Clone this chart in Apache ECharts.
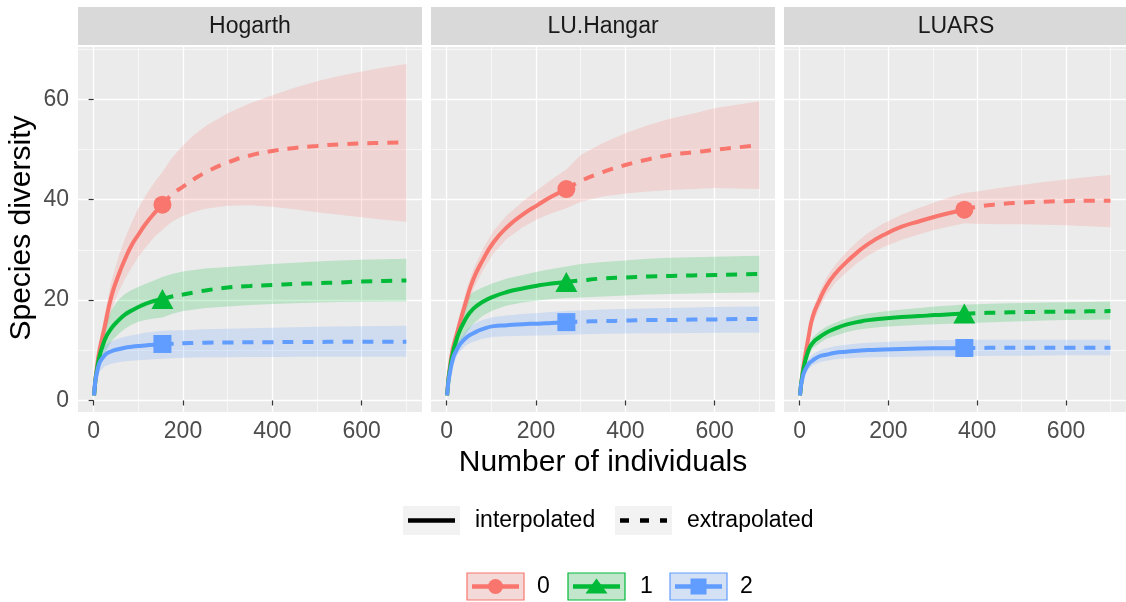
<!DOCTYPE html>
<html><head><meta charset="utf-8">
<script src="https://cdn.jsdelivr.net/npm/echarts@6/dist/echarts.min.js"></script>
<style>html,body{margin:0;padding:0;background:#fff}#c{width:1126px;height:602px}</style>
</head><body><div id="c"></div><script>
// ---------- data ----------
const siteNames = ['Hogarth', 'LU.Hangar', 'LUARS'];
const orderNames = ['0', '1', '2'];
const methodNames = ['interpolated', 'extrapolated'];
const xTicks = [0, 200, 400, 600];
const yTicks = [0, 20, 40, 60];

// Hogarth
const hogN = 154;
const hogX   = [1,10,25,40,55,70,85,100,115,135,154, 175,200,225,250,300,350,400,450,500,550,600,650,700];
const hogQ0  = [1,8.4,14.8,20.8,24.8,28.1,30.9,33.0,35.0,37.2,39.0, 41.0,42.6,44.1,45.4,47.4,48.8,49.7,50.3,50.7,51.0,51.2,51.3,51.4];
const hogQ0Lo= [1,7.2,12.6,18.0,21.5,24.2,26.5,28.6,30.3,32.5,34.0, 35.6,36.8,37.6,38.2,38.8,38.9,38.6,38.1,37.5,37.0,36.5,36.0,35.6];
const hogQ0Hi= [1,9.6,17.2,23.8,28.4,32.2,35.4,38.3,40.6,43.3,45.5, 48.3,50.8,52.9,54.6,57.2,59.2,60.8,62.3,63.6,64.6,65.5,66.3,67.0];
const hogQ1  = [1,7.6,12.1,14.4,15.9,17.1,17.9,18.6,19.2,19.8,20.2, 20.7,21.1,21.5,21.9,22.5,22.8,23.0,23.2,23.35,23.5,23.7,23.8,23.9];
const hogQ1Lo= [1,6.2,9.5,11.8,13.2,14.3,15.1,15.7,16.0,16.3,16.5, 17.2,17.8,18.1,18.4,18.7,19.0,19.2,19.35,19.5,19.6,19.65,19.7,19.7];
const hogQ1Hi= [1,9.0,14.8,18.0,20.0,21.2,22.0,22.6,23.2,23.9,24.6, 25.2,25.7,26.0,26.3,26.6,26.9,27.2,27.45,27.7,27.9,28.0,28.1,28.2];
const hogQ2  = [1,6.6,9.0,9.8,10.2,10.5,10.7,10.85,10.95,11.1,11.25, 11.3,11.4,11.45,11.5,11.55,11.6,11.6,11.65,11.65,11.7,11.7,11.7,11.7];
const hogQ2Lo= [1,5.4,6.8,7.3,7.6,7.8,7.9,8.0,8.1,8.2,8.3, 8.4,8.5,8.55,8.6,8.6,8.65,8.65,8.7,8.7,8.7,8.7,8.7,8.7];
const hogQ2Hi= [1,7.9,11.0,11.8,12.3,12.7,13.0,13.2,13.5,13.7,13.9, 13.95,14.0,14.1,14.2,14.3,14.4,14.5,14.6,14.7,14.75,14.8,14.85,14.9];

// LU.Hangar
const hanN = 268;
const hanX   = [1,10,25,45,60,80,105,135,170,205,235,268, 300,350,400,450,500,550,600,650,700];
const hanQ0  = [1,8.5,14.0,20.2,24.2,27.8,31.5,34.5,37.0,39.0,40.6,42.1, 43.7,45.5,46.9,48.0,48.9,49.4,49.9,50.4,50.8];
const hanQ0Lo= [1,7.3,12.3,18.3,22.2,25.7,29.3,32.2,34.5,36.2,37.3,38.3, 39.6,40.6,41.2,41.6,41.9,42.1,42.3,42.2,42.1];
const hanQ0Hi= [1,9.7,15.7,22.3,26.2,30.0,33.8,36.9,39.6,42.0,44.0,46.0, 48.9,51.3,53.2,54.8,56.1,57.1,58.2,58.9,59.6];
const hanQ1  = [1,7.8,12.9,16.6,18.3,19.6,20.7,21.6,22.3,22.9,23.3,23.6, 23.9,24.3,24.5,24.7,24.8,24.9,25.0,25.1,25.2];
const hanQ1Lo= [1,6.8,10.6,13.6,15.3,16.8,18.0,18.9,19.5,19.9,20.2,20.4, 20.5,20.7,20.9,21.1,21.2,21.3,21.4,21.45,21.5];
const hanQ1Hi= [1,8.8,15.0,20.4,21.6,22.5,23.4,24.3,25.0,25.7,26.2,26.7, 27.2,27.6,27.9,28.2,28.4,28.5,28.6,28.7,28.8];
const hanQ2  = [1,6.8,10.5,12.6,13.4,14.2,14.8,15.0,15.2,15.3,15.45,15.6, 15.7,15.8,15.9,16.0,16.0,16.1,16.1,16.2,16.2];
const hanQ2Lo= [1,6.0,9.3,11.1,11.7,12.3,12.7,12.8,12.9,12.95,13.0,13.1, 13.2,13.3,13.35,13.4,13.4,13.45,13.5,13.5,13.5];
const hanQ2Hi= [1,7.6,11.7,14.1,15.2,16.0,16.6,16.9,17.2,17.4,17.6,17.8, 17.9,18.1,18.2,18.3,18.4,18.5,18.6,18.65,18.7];

// LUARS
const luaN = 371;
const luaX   = [1,8,20,30,45,60,80,105,130,155,190,230,270,305,340,371, 400,450,500,550,600,650,700];
const luaQ0  = [1,6.3,12.5,16.8,20.0,22.7,25.2,27.5,29.5,31.2,33.0,34.6,35.7,36.6,37.4,38.0, 38.6,39.1,39.4,39.6,39.7,39.8,39.8];
const luaQ0Lo= [1,5.5,11.3,15.4,18.4,21.0,23.4,25.5,27.4,28.9,30.6,32.0,33.1,34.0,34.7,35.3, 35.2,35.1,35.1,35.0,34.9,34.7,34.5];
const luaQ0Hi= [1,7.1,13.7,18.2,21.6,24.4,27.0,29.5,31.6,33.4,35.3,37.0,38.4,39.5,40.5,41.3, 41.6,42.3,42.9,43.5,44.0,44.5,44.9];
const luaQ1  = [1,5.9,10.0,11.5,12.6,13.5,14.3,15.1,15.6,16.0,16.3,16.6,16.8,17.0,17.15,17.3, 17.4,17.5,17.6,17.65,17.7,17.75,17.8];
const luaQ1Lo= [1,5.2,9.0,10.4,11.4,12.3,12.9,13.6,14.1,14.4,14.7,14.9,15.1,15.2,15.3,15.4, 15.5,15.65,15.8,15.9,16.0,16.05,16.1];
const luaQ1Hi= [1,6.6,11.0,12.6,13.8,14.7,15.5,16.3,16.9,17.3,17.7,18.1,18.4,18.7,18.9,19.1, 19.15,19.3,19.4,19.5,19.55,19.6,19.7];
const luaQ2  = [1,5.0,7.2,8.0,8.8,9.1,9.5,9.7,9.9,10.05,10.15,10.25,10.35,10.4,10.42,10.45, 10.45,10.5,10.5,10.5,10.5,10.5,10.5];
const luaQ2Lo= [1,4.3,6.2,7.0,7.6,7.9,8.2,8.4,8.5,8.6,8.65,8.7,8.75,8.8,8.8,8.8, 8.85,8.9,8.9,8.95,9.0,9.0,9.0];
const luaQ2Hi= [1,5.7,8.3,9.2,10.0,10.4,10.8,11.1,11.35,11.5,11.65,11.8,11.9,12.0,12.05,12.1, 12.1,12.1,12.1,12.1,12.1,12.1,12.1];

// ---------- styling / layout ----------
const FONT = '"Liberation Sans", Arial, sans-serif';
const colors = ['#F8766D', '#00BA38', '#619CFF'];
const fills = ['rgba(248,118,109,0.2)', 'rgba(0,186,56,0.2)', 'rgba(97,156,255,0.2)'];
const symbols = ['circle', 'triangle', 'rect'];
const symSizes = [18, [22, 20], 18];
const gridLefts = [78, 431, 784];
const GW = 344, GT = 47, GH = 365;

const panels = [
  { x: hogX, n: hogN, q: [[hogQ0, hogQ0Lo, hogQ0Hi], [hogQ1, hogQ1Lo, hogQ1Hi], [hogQ2, hogQ2Lo, hogQ2Hi]] },
  { x: hanX, n: hanN, q: [[hanQ0, hanQ0Lo, hanQ0Hi], [hanQ1, hanQ1Lo, hanQ1Hi], [hanQ2, hanQ2Lo, hanQ2Hi]] },
  { x: luaX, n: luaN, q: [[luaQ0, luaQ0Lo, luaQ0Hi], [luaQ1, luaQ1Lo, luaQ1Hi], [luaQ2, luaQ2Lo, luaQ2Hi]] }
];

const grids = [], xAxes = [], yAxes = [], series = [], graphics = [];

panels.forEach((p, i) => {
  grids.push({ left: gridLefts[i], top: GT, width: GW, height: GH, show: true,
    backgroundColor: '#EBEBEB', borderWidth: 0, containLabel: false });
  xAxes.push({
    type: 'value', gridIndex: i, min: -35, max: 735, splitNumber: 4,
    axisLine: { show: false },
    axisTick: { show: true, length: 5, customValues: xTicks, lineStyle: { color: '#333333', width: 1.2 } },
    axisLabel: { show: true, customValues: xTicks, color: '#4D4D4D', fontSize: 23, fontFamily: FONT, margin: 8 },
    splitLine: { show: true, lineStyle: { color: '#FFFFFF', width: 1.3 } },
    minorTick: { show: false, splitNumber: 2 },
    minorSplitLine: { show: true, lineStyle: { color: '#FFFFFF', width: 0.6 } }
  });
  yAxes.push({
    type: 'value', gridIndex: i, min: -2.3, max: 70.4, splitNumber: 4,
    axisLine: { show: false },
    axisTick: { show: i === 0, length: 5, customValues: yTicks, lineStyle: { color: '#333333', width: 1.2 } },
    axisLabel: { show: i === 0, customValues: yTicks, color: '#4D4D4D', fontSize: 23, fontFamily: FONT, margin: 9 },
    splitLine: { show: true, lineStyle: { color: '#FFFFFF', width: 1.3 } },
    minorTick: { show: false, splitNumber: 2 },
    minorSplitLine: { show: true, lineStyle: { color: '#FFFFFF', width: 0.6 } }
  });

  p.q.forEach((arr, q) => {
    const [est, lo, hi] = arr;
    const xs = p.x;
    // ribbon
    series.push({
      type: 'custom', xAxisIndex: i, yAxisIndex: i, silent: true, z: 1,
      data: [[xs[0], est[0]]],
      renderItem: (params, api) => {
        const pts = [];
        for (let k = 0; k < xs.length; k++) pts.push(api.coord([xs[k], hi[k]]));
        for (let k = xs.length - 1; k >= 0; k--) pts.push(api.coord([xs[k], lo[k]]));
        return { type: 'polygon', shape: { points: pts }, style: { fill: fills[q], stroke: null } };
      }
    });
    const solid = [], dashed = [];
    let nVal = null;
    xs.forEach((xv, k) => {
      if (xv <= p.n) solid.push([xv, est[k]]);
      if (xv >= p.n) dashed.push([xv, est[k]]);
      if (xv === p.n) nVal = est[k];
    });
    series.push({
      type: 'line', xAxisIndex: i, yAxisIndex: i, data: solid, showSymbol: false, symbol: 'none',
      smooth: true, silent: true, z: 3,
      lineStyle: { color: colors[q], width: 4, cap: 'butt', join: 'round' }
    });
    series.push({
      type: 'line', xAxisIndex: i, yAxisIndex: i, data: dashed, showSymbol: false, symbol: 'none',
      smooth: true, silent: true, z: 3,
      lineStyle: { color: colors[q], width: 4, type: [11, 9], cap: 'butt' }
    });
    series.push({
      type: 'scatter', xAxisIndex: i, yAxisIndex: i, data: [[p.n, nVal]],
      symbol: symbols[q], symbolSize: symSizes[q], silent: true, z: 4,
      itemStyle: { color: colors[q], opacity: 1 }
    });
  });

  // strip
  graphics.push({ type: 'rect', silent: true, shape: { x: gridLefts[i], y: 7, width: GW, height: 38 }, style: { fill: '#D9D9D9' } });
  graphics.push({ type: 'text', silent: true, x: gridLefts[i] + GW / 2, y: 27,
    style: { text: siteNames[i], fontSize: 23, fontFamily: FONT, fill: '#1A1A1A', align: 'center', verticalAlign: 'middle' } });
});

// axis titles
graphics.push({ type: 'text', silent: true, x: 603, y: 463,
  style: { text: 'Number of individuals', fontSize: 30, fontFamily: FONT, fill: '#000', align: 'center', verticalAlign: 'middle' } });
graphics.push({ type: 'text', silent: true, x: 22, y: 228, rotation: Math.PI / 2,
  style: { text: 'Species diversity', fontSize: 30, fontFamily: FONT, fill: '#000', align: 'center', verticalAlign: 'middle' } });

// legend: line type
const ltBoxes = [403, 615];
const ltText = [475, 687];
methodNames.forEach((m, j) => {
  graphics.push({ type: 'rect', silent: true, shape: { x: ltBoxes[j], y: 506, width: 57, height: 29 }, style: { fill: '#F2F2F2' } });
  graphics.push({ type: 'line', silent: true, shape: { x1: ltBoxes[j] + 5, y1: 520.5, x2: ltBoxes[j] + 52, y2: 520.5 },
    style: { stroke: '#000', lineWidth: 4.5, lineCap: 'butt', lineDash: j === 1 ? [9, 11] : null } });
  graphics.push({ type: 'text', silent: true, x: ltText[j], y: 521,
    style: { text: m, fontSize: 23, fontFamily: FONT, fill: '#000', align: 'left', verticalAlign: 'middle' } });
});

// legend: order
const ordBoxes = [467, 568, 670];
const ordText = [537, 640, 740];
orderNames.forEach((o, q) => {
  const bx = ordBoxes[q], cy = 586.5, cx = bx + 28.5;
  graphics.push({ type: 'rect', silent: true, shape: { x: bx, y: 573, width: 57, height: 27 }, style: { fill: '#F2F2F2' } });
  graphics.push({ type: 'rect', silent: true, shape: { x: bx, y: 573, width: 57, height: 27 }, style: { fill: fills[q], stroke: colors[q], lineWidth: 1.2 } });
  graphics.push({ type: 'line', silent: true, shape: { x1: bx + 5, y1: cy, x2: bx + 52, y2: cy }, style: { stroke: colors[q], lineWidth: 4.5 } });
  if (q === 0) graphics.push({ type: 'circle', silent: true, shape: { cx: cx, cy: cy, r: 7.5 }, style: { fill: colors[q] } });
  if (q === 1) graphics.push({ type: 'polygon', silent: true, shape: { points: [[cx - 11, cy + 7], [cx + 11, cy + 7], [cx, cy - 8]] }, style: { fill: colors[q] } });
  if (q === 2) graphics.push({ type: 'rect', silent: true, shape: { x: cx - 8, y: cy - 8, width: 16, height: 16 }, style: { fill: colors[q] } });
  graphics.push({ type: 'text', silent: true, x: ordText[q], y: 587,
    style: { text: o, fontSize: 23, fontFamily: FONT, fill: '#000', align: 'left', verticalAlign: 'middle' } });
});

const chart = echarts.init(document.getElementById('c'), null, { renderer: 'canvas' });
chart.setOption({
  animation: false,
  backgroundColor: '#FFFFFF',
  grid: grids, xAxis: xAxes, yAxis: yAxes, series: series, graphic: graphics
});
</script></body></html>
